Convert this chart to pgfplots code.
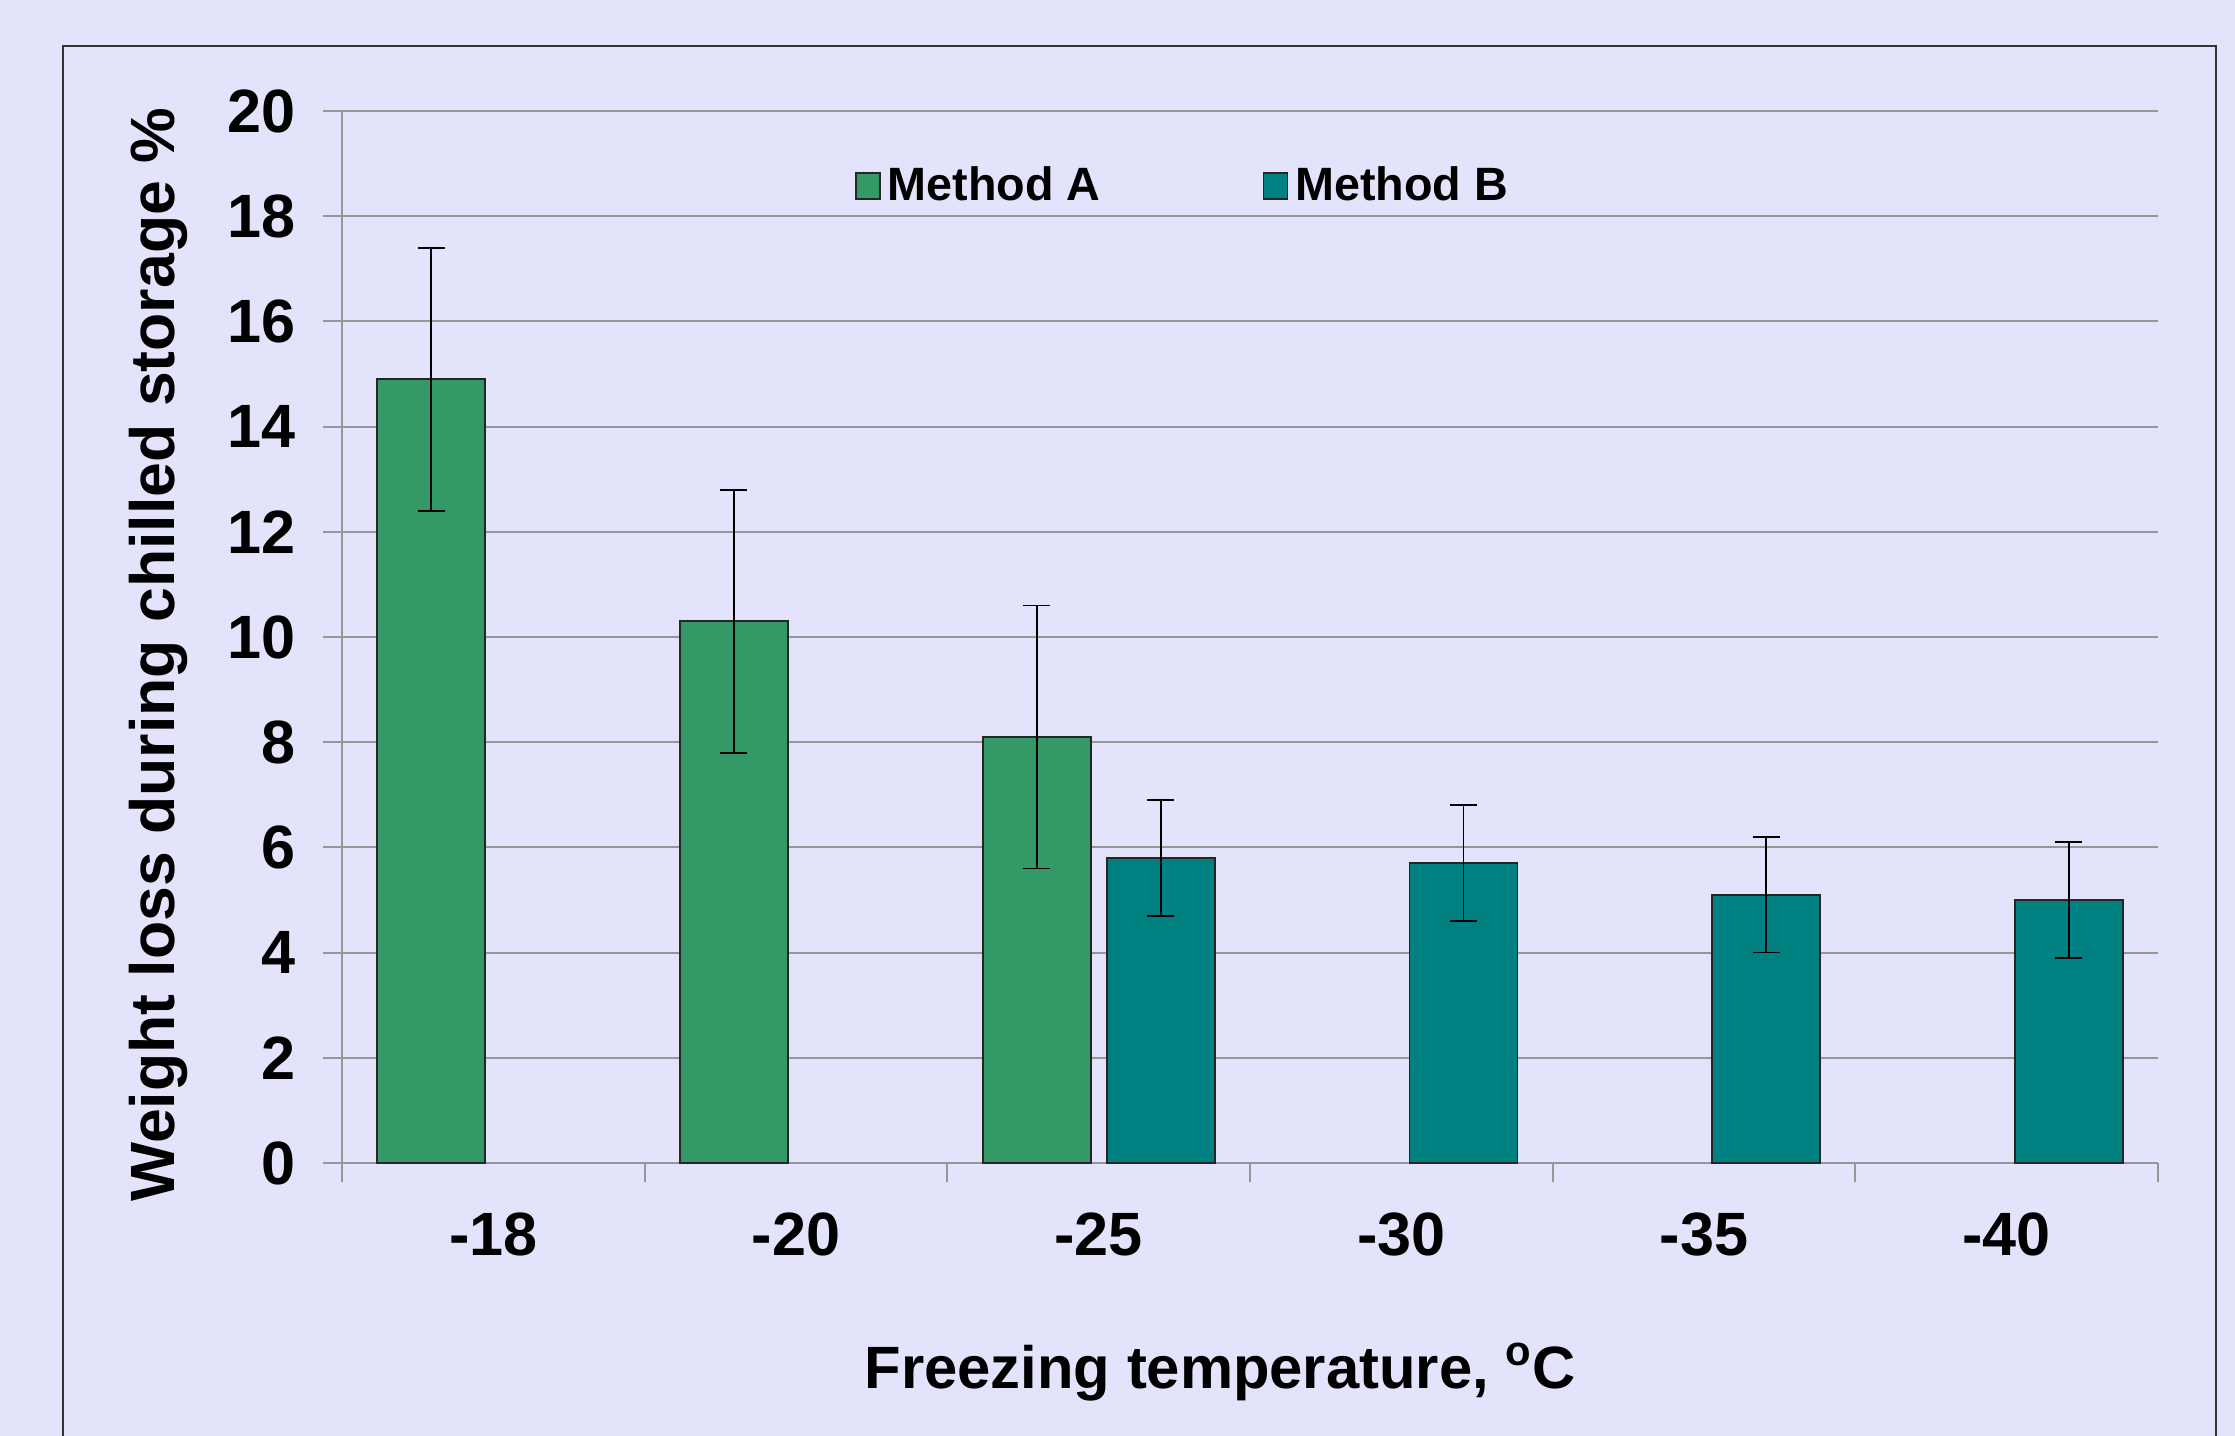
\documentclass[border=0pt]{standalone}
\usepackage{fontspec}
\setmainfont{Liberation Sans}
\usepackage{pgfplots}
\pgfplotsset{compat=1.18}
\definecolor{bg}{RGB}{227,227,252}
\definecolor{mA}{RGB}{51,153,102}
\definecolor{mB}{RGB}{0,128,128}
\definecolor{gridc}{RGB}{150,150,150}
% x positions: category index shifted by the bar offset (0.205 of a category)
\pgfplotstableread{
x y e
-0.205 14.9 2.5
0.795 10.3 2.5
1.795 8.1 2.5
}\methodA
\pgfplotstableread{
x y e
2.205 5.8 1.1
3.205 5.7 1.1
4.205 5.1 1.1
5.205 5.0 1.1
}\methodB
\begin{document}
\begin{tikzpicture}
\path[use as bounding box, fill=bg] (0,0) rectangle (22.35,-14.36);
\draw[line width=0.7pt, black!80] (0.63,-14.6) -- (0.63,-0.46) -- (22.16,-0.46) -- (22.16,-14.6);
\begin{axis}[
  at={(3.42cm,-11.63cm)}, anchor=south west,
  scale only axis, width=18.16cm, height=10.52cm,
  xmin=-0.5, xmax=5.5, ymin=0, ymax=20,
  axis x line*=bottom, axis y line*=left,
  axis line style={gridc, line width=0.6pt, -},
  xtick={-0.5,0.5,...,5.5}, xticklabels={,,,,,,,},
  extra x ticks={0,1,2,3,4,5},
  extra x tick labels={-18,-20,-25,-30,-35,-40},
  extra x tick style={major tick length=0pt, xticklabel style={yshift=-0.37cm}},
  ytick={0,2,...,20},
  tick align=outside,
  major tick length=0.19cm,
  tick style={gridc, line width=0.6pt},
  ymajorgrids, grid style={gridc, line width=0.6pt},
  /pgf/number format/assume math mode=true,
  tick label style={font=\bfseries\fontsize{17.4}{20}\selectfont},
  yticklabel style={xshift=-0.15cm},
  xlabel={Freezing temperature, \textsuperscript{o}C},
  xlabel style={at={(axis description cs:0.4837,-0.2139)}, anchor=base, font=\bfseries\fontsize{17.0}{20}\selectfont},
  ylabel={Weight loss during chilled storage \%},
  ylabel style={at={(axis description cs:-0.092,0.483)}, anchor=base, font=\bfseries\fontsize{17.8}{20}\selectfont},
  legend style={at={(axis description cs:0.282,0.9287)}, anchor=west, draw=none, fill=none,
    legend columns=2, font=\bfseries\fontsize{13.3}{16}\selectfont,
    /tikz/every even column/.append style={column sep=1.55cm}, inner sep=0pt},
  legend image code/.code={\draw[#1, line width=0.5pt] (0cm,-0.13cm) rectangle (0.24cm,0.13cm);},
]
\addplot[ybar, bar width=1.08cm, bar shift=0pt, fill=mA, draw=black!85, line width=0.5pt,
  error bars/.cd, y dir=both, y explicit,
  error bar style={line width=0.5pt, black},
  error mark options={rotate=90, mark size=0.135cm, line width=0.5pt, black}]
  table[x=x, y=y, y error=e] {\methodA};
\addlegendentry{Method A}
\addplot[ybar, bar width=1.08cm, bar shift=0pt, fill=mB, draw=black!85, line width=0.5pt,
  error bars/.cd, y dir=both, y explicit,
  error bar style={line width=0.5pt, black},
  error mark options={rotate=90, mark size=0.135cm, line width=0.5pt, black}]
  table[x=x, y=y, y error=e] {\methodB};
\addlegendentry{Method B}
\end{axis}
\end{tikzpicture}
\end{document}
